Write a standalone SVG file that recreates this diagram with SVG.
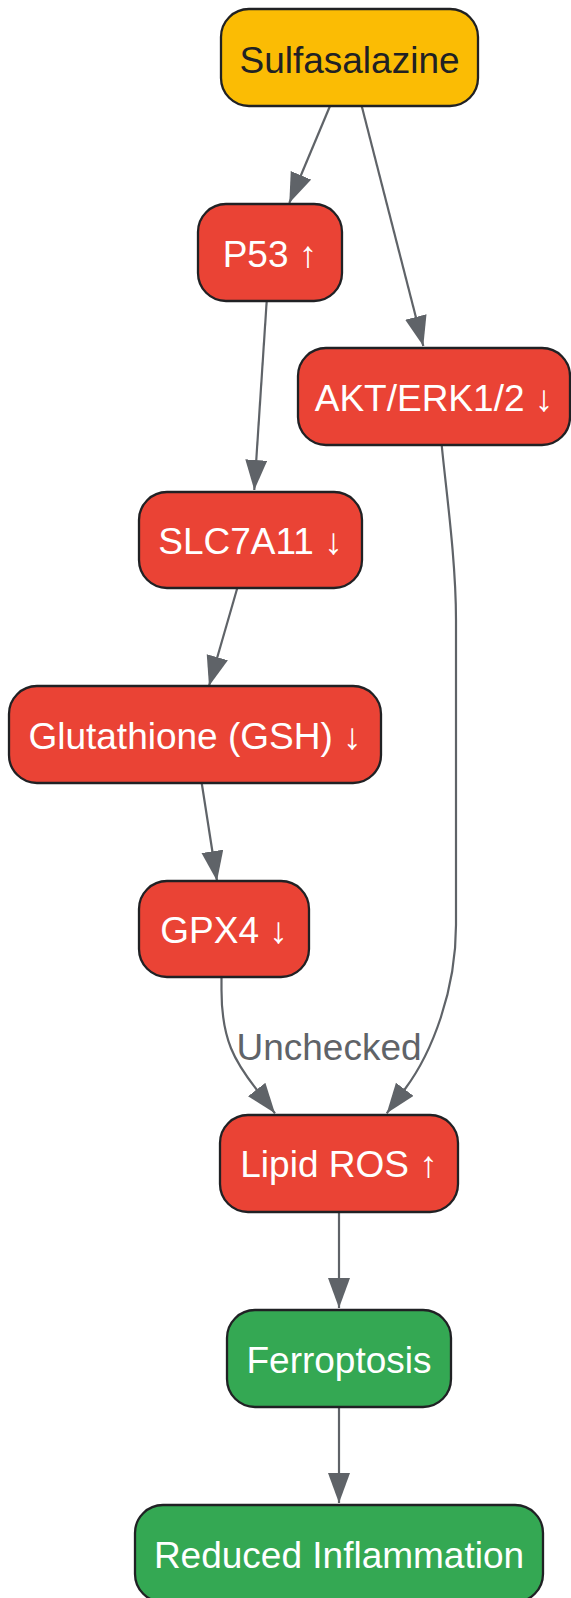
<svg xmlns="http://www.w3.org/2000/svg" width="571" height="1598" viewBox="0 0 571 1598">
<defs>
<style>
.node rect{stroke:#202124;stroke-width:2.3}
.red rect{fill:#EA4335}
.yellow rect{fill:#FBBC04}
.green rect{fill:#34A853}
.node text{font-family:"Liberation Sans",Arial,sans-serif;font-size:37px;text-anchor:middle;fill:#FFFFFF}
.yellow text{fill:#202124}
.edge{fill:none;stroke:#5F6368;stroke-width:2.2}
.elabel{font-family:"Liberation Sans",Arial,sans-serif;font-size:37px;text-anchor:middle;fill:#5F6368}
</style>
<marker id="arrow" markerUnits="userSpaceOnUse" markerWidth="31" markerHeight="23" refX="30" refY="11" orient="auto">
<path d="M0,0 L30,11 L0,22 Z" fill="#5F6368"/>
</marker>
</defs>
<g id="connectors">
<path class="edge" d="M330,106 L289.3,203" marker-end="url(#arrow)"/>
<path class="edge" d="M361.7,106 L423.3,346" marker-end="url(#arrow)"/>
<path class="edge" d="M266.7,301 L254.3,490" marker-end="url(#arrow)"/>
<path class="edge" d="M237.3,588 L209,686" marker-end="url(#arrow)"/>
<path class="edge" d="M201.7,783 L217,881" marker-end="url(#arrow)"/>
<path class="edge" d="M221.5,977 L221.5,990 C221.5,1040 235,1062 257,1090 L275,1113.3" marker-end="url(#arrow)"/>
<path class="edge" d="M441.7,445 C446,490 456,560 456,620 L456,925 C456,990 432.5,1052 405,1089 L386.7,1113.3" marker-end="url(#arrow)"/>
<path class="edge" d="M339,1212 L339,1308" marker-end="url(#arrow)"/>
<path class="edge" d="M339,1407 L339,1503" marker-end="url(#arrow)"/>
<text class="elabel" x="329" y="1060">Unchecked</text>
</g>
<g id="sulfasalazine" class="node yellow">
<rect x="221" y="9" width="257" height="97" rx="28" ry="28"/>
<text x="349.5" y="72.5">Sulfasalazine</text>
</g>
<g id="p53" class="node red">
<rect x="198" y="204" width="144" height="97" rx="28" ry="28"/>
<text x="270" y="266.5">P53 ↑</text>
</g>
<g id="akt" class="node red">
<rect x="298" y="348" width="272" height="97" rx="28" ry="28"/>
<text x="434" y="411">AKT/ERK1/2 ↓</text>
</g>
<g id="slc7a11" class="node red">
<rect x="139" y="492" width="223" height="96" rx="28" ry="28"/>
<text x="250.5" y="554">SLC7A11 ↓</text>
</g>
<g id="gsh" class="node red">
<rect x="9" y="686" width="372" height="97" rx="28" ry="28"/>
<text x="195" y="749">Glutathione (GSH) ↓</text>
</g>
<g id="gpx4" class="node red">
<rect x="139" y="881" width="170" height="96" rx="28" ry="28"/>
<text x="224" y="943">GPX4 ↓</text>
</g>
<g id="lipidros" class="node red">
<rect x="220" y="1115" width="238" height="97" rx="28" ry="28"/>
<text x="339" y="1176.5">Lipid ROS ↑</text>
</g>
<g id="ferroptosis" class="node green">
<rect x="227" y="1310" width="224" height="97" rx="28" ry="28"/>
<text x="339" y="1372.5">Ferroptosis</text>
</g>
<g id="reduced" class="node green">
<rect x="135" y="1505" width="408" height="97" rx="28" ry="28"/>
<text x="339" y="1567.5">Reduced Inflammation</text>
</g>
</svg>
